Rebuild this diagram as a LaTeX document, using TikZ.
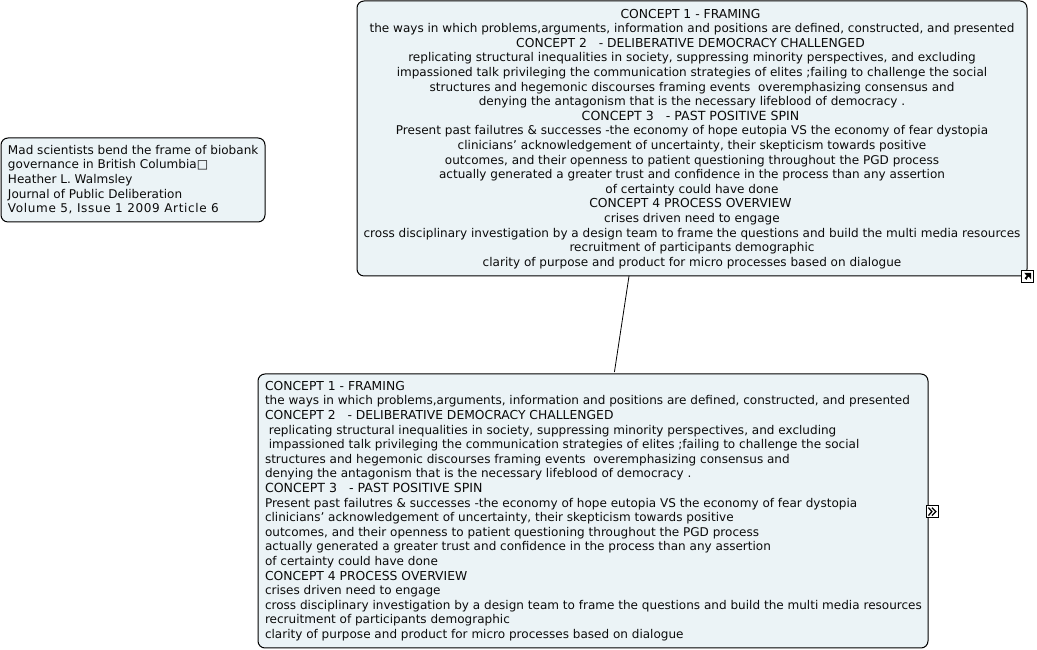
\documentclass[tikz,border=0pt]{standalone}
\usepackage{fontspec}
\setmainfont{DejaVu Sans}
\usetikzlibrary{calc}
\definecolor{boxfill}{HTML}{EBF3F6}
\definecolor{txt}{HTML}{0A0A0A}
\newcommand{\capline}[2][12.35]{\mbox{\fontsize{#1}{14.62}\selectfont #2}}
\newcommand{\capcentre}[2][12.35]{\mbox{\fontsize{#1}{14.62}\selectfont #2\hspace{3pt}}}
\newcommand{\numline}[1]{\mbox{\addfontfeature{LetterSpace=5.3}#1}}
\tikzset{
  x=1pt,y=1pt,
  topicbox/.style={draw=black,line width=1pt,fill=boxfill,rounded corners=7pt,inner sep=0pt,outer sep=0pt,anchor=north west},
  boxtext/.style={inner sep=0pt,outer sep=0pt,text=txt,font=\fontsize{12.04}{14.6}\selectfont},
  iconbox/.style={draw=black,line width=1pt,fill=white,minimum size=11.5pt,inner sep=0pt,outer sep=0pt},
  link/.style={draw=black,line width=0.8pt}
}
\begin{document}
\begin{tikzpicture}
\useasboundingbox (0,0) rectangle (1037,650);
\node[topicbox,minimum width=670pt,minimum height=275pt] (top) at (357,649) {};
\node[topicbox,minimum width=670pt,minimum height=274pt] (bottom) at (258,276) {};
\node[topicbox,minimum width=264pt,minimum height=84pt] (src) at (1,512) {};
\node[boxtext,align=center,anchor=north] (toptext) at (692,641) {\capcentre{CONCEPT 1 - FRAMING}\\
the ways in which problems,arguments, information and positions are defined, constructed, and presented\\
\capcentre{CONCEPT 2 \ \ - DELIBERATIVE DEMOCRACY CHALLENGED}\\
replicating structural inequalities in society, suppressing minority perspectives, and excluding\\
impassioned talk privileging the communication strategies of elites ;failing to challenge the social\\
structures and hegemonic discourses framing events \ overemphasizing consensus and\\
denying the antagonism that is the necessary lifeblood of democracy .\\
\capcentre[12.58]{CONCEPT 3 \ \ - PAST POSITIVE SPIN}\\
Present past failutres \& successes -the economy of hope eutopia VS the economy of fear dystopia\\
clinicians’ acknowledgement of uncertainty, their skepticism towards positive\\
outcomes, and their openness to patient questioning throughout the PGD process\\
actually generated a greater trust and confidence in the process than any assertion\\
of certainty could have done\\
\capcentre{CONCEPT 4 PROCESS OVERVIEW}\\
crises driven need to engage\\
cross disciplinary investigation by a design team to frame the questions and build the multi media resources\\
recruitment of participants demographic\\
clarity of purpose and product for micro processes based on dialogue};
\node[boxtext,align=left,anchor=north west] (bottomtext) at (265,268.8) {\capline{CONCEPT 1 - FRAMING}\\
the ways in which problems,arguments, information and positions are defined, constructed, and presented\\
\capline{CONCEPT 2 \ \ - DELIBERATIVE DEMOCRACY CHALLENGED}\\
\ replicating structural inequalities in society, suppressing minority perspectives, and excluding\\
\ impassioned talk privileging the communication strategies of elites ;failing to challenge the social\\
structures and hegemonic discourses framing events \ overemphasizing consensus and\\
denying the antagonism that is the necessary lifeblood of democracy .\\
\capline[12.58]{CONCEPT 3 \ \ - PAST POSITIVE SPIN}\\
Present past failutres \& successes -the economy of hope eutopia VS the economy of fear dystopia\\
clinicians’ acknowledgement of uncertainty, their skepticism towards positive\\
outcomes, and their openness to patient questioning throughout the PGD process\\
actually generated a greater trust and confidence in the process than any assertion\\
of certainty could have done\\
\capline{CONCEPT 4 PROCESS OVERVIEW}\\
crises driven need to engage\\
cross disciplinary investigation by a design team to frame the questions and build the multi media resources\\
recruitment of participants demographic\\
clarity of purpose and product for micro processes based on dialogue};
\node[boxtext,align=left,anchor=north west] (srctext) at (8,504.9) {Mad scientists bend the frame of biobank\\
governance in British Columbia□\\
Heather L. Walmsley\\
Journal of Public Deliberation\\
\numline{Volume 5, Issue 1 2009 Article 6}};
\draw[link] ($(top.south west)!0.406!(top.south east)$) -- ($(bottom.north west)!0.532!(bottom.north east)+(0,2)$);
\node[iconbox] (goicon) at (1027.7,373.7) {};
\fill[black] ($(goicon.center)+(-3.5,3.5)$) -- ($(goicon.center)+(3.5,3.5)$) -- ($(goicon.center)+(3.5,-3)$) -- ($(goicon.center)+(1.6,-1)$) -- ($(goicon.center)+(0.5,-0.2)$) -- ($(goicon.center)+(-1.2,-3.5)$) -- ($(goicon.center)+(-3.2,-2)$) -- ($(goicon.center)+(-1,0.5)$) -- cycle;
\node[iconbox] (moreicon) at (932.4,138.4) {};
\draw[black,line width=1.3pt] ($(moreicon.center)+(-4,4)$) -- ($(moreicon.center)+(-0.5,0)$) -- ($(moreicon.center)+(-4,-4)$);
\draw[black,line width=1.3pt] ($(moreicon.center)+(-0.5,4)$) -- ($(moreicon.center)+(3.5,0)$) -- ($(moreicon.center)+(-0.5,-4)$);
\end{tikzpicture}
\end{document}
